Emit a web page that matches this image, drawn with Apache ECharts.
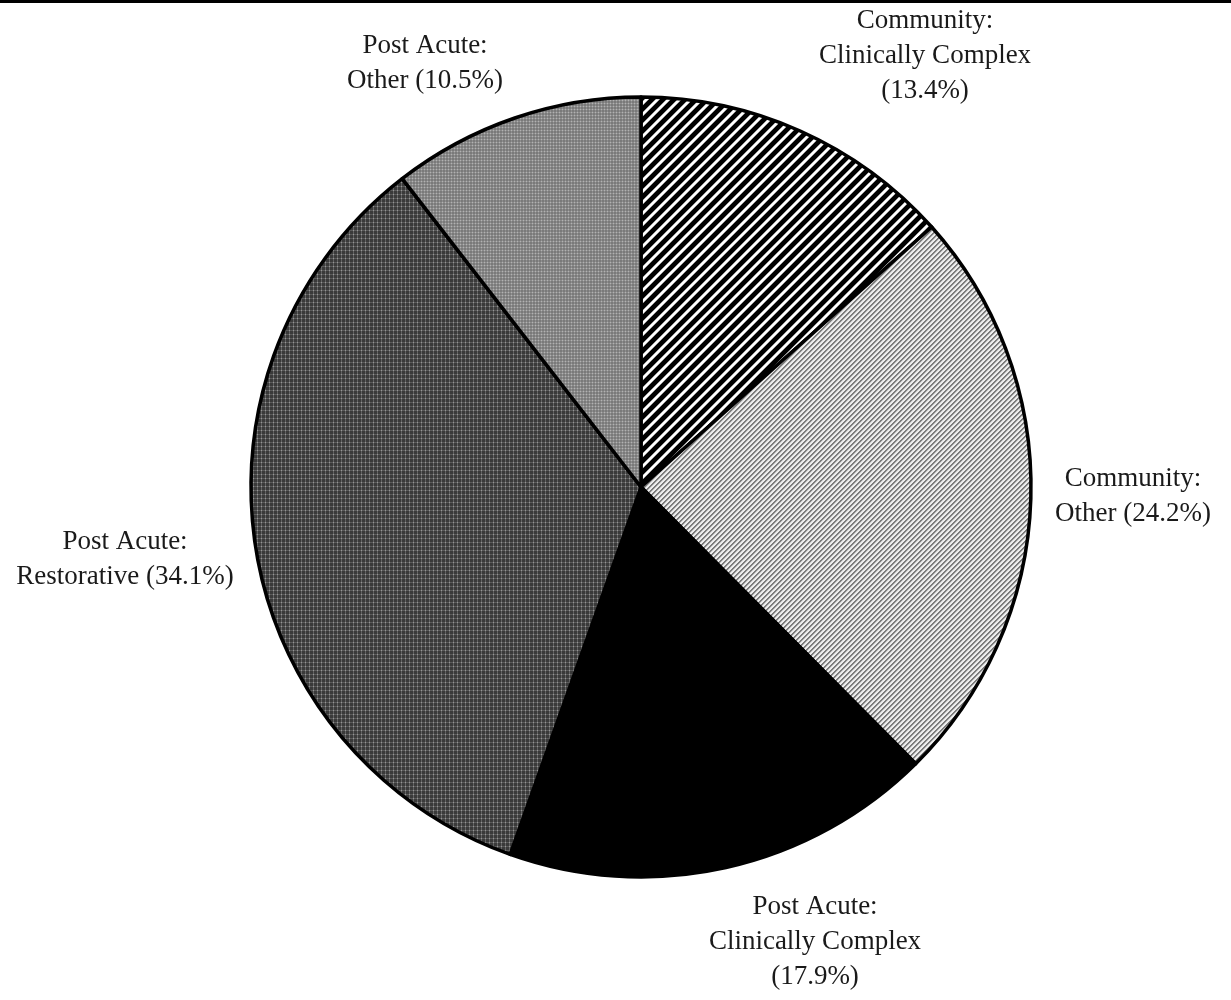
<!DOCTYPE html>
<html>
<head>
<meta charset="utf-8">
<script src="https://cdn.jsdelivr.net/npm/echarts@6/dist/echarts.min.js"></script>
<style>
  html, body { margin: 0; padding: 0; background: #fff; }
  #chart { width: 1231px; height: 1000px; }
</style>
</head>
<body>
<div id="chart"></div>
<script>
// Resident case-mix shares (percent of stays)
const categories = [
  'Community:\nClinically Complex',
  'Community:\nOther',
  'Post Acute:\nClinically Complex',
  'Post Acute:\nRestorative',
  'Post Acute:\nOther'
];
const shares = [13.4, 24.2, 17.9, 34.1, 10.5];
// how the percentage joins the category text in each label
const valueJoin = ['\n', ' ', '\n', ' ', ' '];

// label anchor points (block centres), in pixels
const labelAnchors = [
  [925, 56], [1133, 496], [815, 942], [125, 559], [425, 63]
];

// ---- fill textures ----
function makeTile(w, h, shade) {
  const c = document.createElement('canvas');
  c.width = w; c.height = h;
  const ctx = c.getContext('2d');
  const img = ctx.createImageData(w, h);
  for (let y = 0; y < h; y++) {
    for (let x = 0; x < w; x++) {
      const g = shade(x, y);
      const i = (y * w + x) * 4;
      img.data[i] = img.data[i + 1] = img.data[i + 2] = g;
      img.data[i + 3] = 255;
    }
  }
  ctx.putImageData(img, 0, 0);
  return c;
}
// bold black "/" hatching
const hatchBold = makeTile(11, 11, (x, y) => {
  const d = (x + y) % 11;
  if (d < 6) return 0;
  if (d === 6 || d === 10) return 150;
  return 255;
});
// fine grey "/" hatching
const hatchFine = makeTile(5, 5, (x, y) => {
  const d = (x + y) % 5;
  return d < 2 ? 125 : (d === 2 ? 205 : 238);
});
// dark screened grey
const screenDark = makeTile(4, 4, (x, y) => {
  if (x === 1 && y === 2) return 150;
  if (x === 1) return 100;
  if (y === 2) return 90;
  return 58;
});
// medium screened grey
const screenMid = makeTile(3, 3, (x, y) => {
  if (x === 1 && y === 1) return 178;
  if (x === 1 || y === 1) return 142;
  return 122;
});
const fills = [
  { image: hatchBold, repeat: 'repeat' },
  { image: hatchFine, repeat: 'repeat' },
  '#000000',
  { image: screenDark, repeat: 'repeat' },
  { image: screenMid, repeat: 'repeat' }
];

const chart = echarts.init(document.getElementById('chart'), null, { renderer: 'canvas' });

const option = {
  backgroundColor: '#ffffff',
  animation: false,
  graphic: [{
    type: 'line',
    shape: { x1: 0, y1: 1.5, x2: 1231, y2: 1.5 },
    style: { stroke: '#000', lineWidth: 3 }
  }],
  series: [{
    type: 'pie',
    center: [641, 487],
    radius: 390,
    startAngle: 90,
    clockwise: true,
    avoidLabelOverlap: false,
    silent: true,
    itemStyle: { borderColor: '#000', borderWidth: 3.5 },
    label: {
      show: true,
      position: 'outside',
      fontFamily: 'Liberation Serif',
      fontSize: 27,
      lineHeight: 35,
      color: '#1a1a1a',
      align: 'center',
      formatter: p => p.name + valueJoin[p.dataIndex] + '(' + p.value.toFixed(1) + '%)'
    },
    labelLine: { show: false },
    labelLayout: p => ({
      x: labelAnchors[p.dataIndex][0],
      y: labelAnchors[p.dataIndex][1],
      align: 'center',
      verticalAlign: 'middle'
    }),
    data: categories.map((name, i) => ({
      name: name,
      value: shares[i],
      itemStyle: { color: fills[i] }
    }))
  }]
};

chart.setOption(option);
</script>
</body>
</html>
